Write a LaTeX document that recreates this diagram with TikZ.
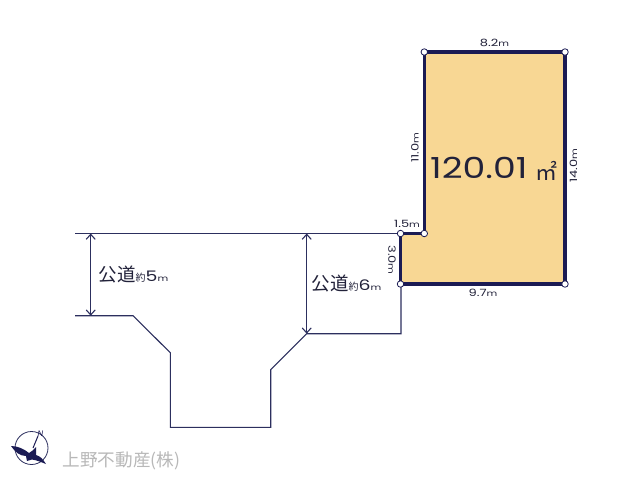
\documentclass[tikz,border=0pt]{standalone}
\usepackage{graphicx}
\usepackage{fontspec}
\setmainfont{Poppins}
\newfontfamily\cjk{Noto Sans CJK JP}
\definecolor{navy}{HTML}{1B1B54}
\definecolor{lot}{HTML}{F8D794}
\definecolor{roadc}{HTML}{2C2F5E}
\definecolor{txt}{HTML}{22223A}
\usetikzlibrary{arrows.meta}
\newcommand{\um}{{\fontsize{8}{9}\selectfont m}}
\newcommand{\wide}[1]{\scalebox{1.3}[1]{#1}}
\tikzset{
  lotedge/.style={draw=navy,line width=3.4pt,fill=lot,line join=miter},
  roadline/.style={draw=roadc,line width=1.1pt,line join=miter},
  dimline/.style={draw=roadc,line width=1.1pt,<->,>={Straight Barb[length=5pt,width=9pt]}},
  vertex/.style={circle,draw=navy,fill=white,line width=.8pt,inner sep=0pt,minimum size=6.5pt},
  dimlabel/.style={text=txt,font=\fontsize{10}{12}\selectfont,inner sep=0pt},
}
\begin{document}
\begin{tikzpicture}[x=1pt,y=-1pt]
\useasboundingbox[fill=white] (0,0) rectangle (640,480);
% road
\coordinate (rtl) at (75,233.5);
\coordinate (rbl) at (75,315.7);
\coordinate (arrA) at (90.7,233.5);
\coordinate (arrB) at (90.7,315.7);
\coordinate (arrC) at (306.7,233.5);
\coordinate (arrD) at (306.7,333.7);
\draw[roadline] (rtl) -- (401,233.5);
\draw[roadline] (rbl) -- (133,315.7) -- (170.3,352.7) -- (170.3,427.3) -- (270.7,427.3) -- (270.7,369.7) -- (306.7,333.7) -- (401,333.7) -- (401,284);
\draw[dimline] (arrA) -- (arrB);
\draw[dimline] (arrC) -- (arrD);
% lot
\draw[lotedge] (424.3,52) -- (565,52) -- (565,284) -- (400.5,284) -- (400.5,233.5) -- (424.3,233.5) -- cycle;
\foreach \n/\p in {a/{424.3,52},b/{565,52},c/{565,284},d/{400.5,284},e/{400.5,233.5},f/{424.3,233.5}}
  \node[vertex] (\n) at (\p) {};
% labels
\node[dimlabel] (l1) at (494.5,43) {\wide{8.2\um}};
\node[dimlabel,rotate=90] (l2) at (415,147.5) {\wide{11.0\um}};
\node[dimlabel,rotate=90] (l3) at (573.5,166) {\wide{14.0\um}};
\node[dimlabel] (l4) at (407,223.5) {\wide{1.5\um}};
\node[dimlabel,rotate=-90] (l5) at (392,260) {\wide{3.0\um}};
\node[dimlabel] (l6) at (483,292.5) {\wide{9.7\um}};
\node[text=txt,inner sep=0pt,anchor=base west] (area) at (430,178) {\scalebox{1.25}[1]{\fontsize{29}{32}\selectfont 120.01}};
\node[text=txt,inner sep=0pt] (unit) at (546,170.5) {\cjk\fontsize{22}{24}\selectfont ㎡};
% road labels
\node[text=txt,inner sep=0pt,anchor=base west] (r5) at (98.5,281.5) {{\cjk\fontsize{18.5}{20}\selectfont 公道}{\cjk\fontsize{10}{12}\selectfont 約}\wide{\fontsize{14.5}{18}\selectfont 5}\wide{\fontsize{8}{10}\selectfont m}};
\node[text=txt,inner sep=0pt,anchor=base west] (r6) at (311.5,290.5) {{\cjk\fontsize{18.5}{20}\selectfont 公道}{\cjk\fontsize{10}{12}\selectfont 約}\wide{\fontsize{14.5}{18}\selectfont 6}\wide{\fontsize{8}{10}\selectfont m}};
% compass
\draw[roadc,line width=.8pt] (31.5,448) circle (16.5);
\draw[navy,line width=1pt] (33,448) -- (38,436);
\node[text=navy,inner sep=0pt,font=\fontsize{8}{9}\itshape] (north) at (40.5,433.5) {N};
\fill[navy] (11,446) .. controls (18,446) and (24,449) .. (29,453)
  .. controls (32,452) and (34,449) .. (36,447)
  .. controls (36,450) and (36,452) .. (36,455)
  .. controls (40,456) and (43,459) .. (46,464)
  .. controls (41,462) and (36,460) .. (32,459.5)
  -- (27,461) -- (26,456)
  .. controls (20,456) and (15,452) .. (11,446) -- cycle;
% company
\node[text=black!28,inner sep=0pt,anchor=base west,font=\cjk\fontsize{17.6}{19}\selectfont] (co) at (62.5,466.5) {上野不動産(株)};
\end{tikzpicture}
\end{document}
